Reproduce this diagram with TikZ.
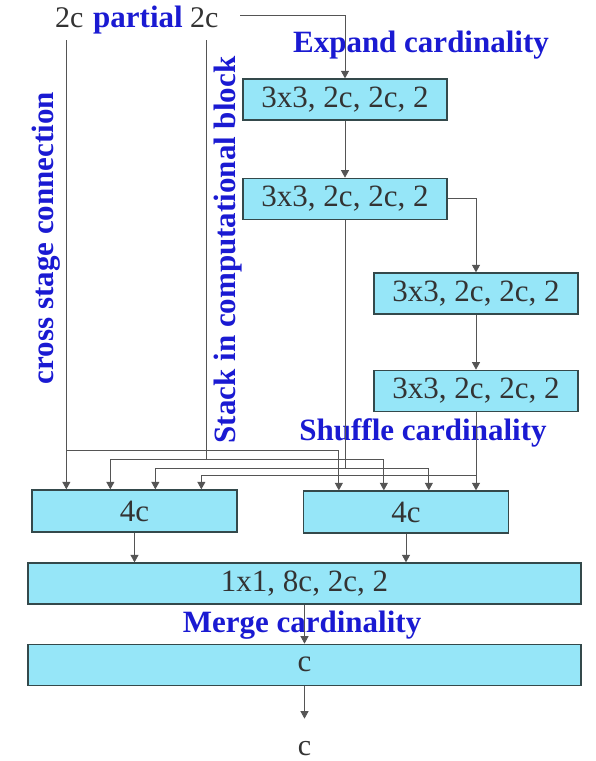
\documentclass[tikz,border=0pt]{standalone}
\usepackage{fontspec}
\setmainfont{Liberation Serif}
\usepackage{tikz}
\usetikzlibrary{arrows.meta,positioning,calc}
\definecolor{cellfill}{HTML}{96E6F8}
\definecolor{celledge}{HTML}{34494B}
\definecolor{notecolor}{HTML}{1A1AD2}
\definecolor{wirecolor}{HTML}{555555}
\tikzset{
  convbox/.style={draw=celledge,fill=cellfill,line width=1.3pt,minimum width=204pt,
    minimum height=41pt,inner sep=0pt,font=\fontsize{31}{37}\selectfont,text=black!80},
  widebox/.style={convbox,minimum width=553pt},
  notelabel/.style={font=\fontsize{31}{37}\selectfont\bfseries,text=notecolor,inner sep=0pt},
  plainlabel/.style={font=\fontsize{30}{36}\selectfont,text=black!80,inner sep=0pt},
  wire/.style={draw=wirecolor,line width=0.9pt},
  flowarrow/.style={wire,-{Triangle[length=7.5pt,width=8pt]}}
}

\begin{document}
\begin{tikzpicture}[x=1pt,y=-1pt]
  \useasboundingbox (0,0) rectangle (596,761);
  \node[plainlabel,anchor=base west] (srcL) at (55,27) {2c};
  \node[notelabel,anchor=base west] (part) at (93,27) {partial};
  \node[plainlabel,anchor=base west] (srcR) at (190,27) {2c};

  \node[notelabel,anchor=base] (expand) at (421,52) {Expand cardinality};
  \node[convbox] (blk1) at (345,99.5) {3x3, 2c, 2c, 2};
  \node[convbox,below=57pt of blk1] (blk2) {3x3, 2c, 2c, 2};
  \node[convbox] (blk3) at (476,293.5) {3x3, 2c, 2c, 2};
  \node[convbox,below=55pt of blk3] (blk4) {3x3, 2c, 2c, 2};
  \node[notelabel,anchor=base] (shuffle) at (423,440) {Shuffle cardinality};
  \node[notelabel,rotate=90] (cross) at (46,238) {cross stage connection};
  \node[notelabel,rotate=90] (stack) at (228,250) {Stack in computational block};

  \node[convbox,minimum width=205pt,minimum height=42pt] (sumL) at (134.5,511) {4c};
  \node[convbox,minimum width=205pt,minimum height=42pt] (sumR) at (406,512) {4c};
  \node[widebox] (merge) at (304.5,583.5) {1x1, 8c, 2c, 2};
  \node[notelabel,anchor=base] (mergenote) at (302,632) {Merge cardinality};
  \node[widebox,below=39pt of merge] (outbox) {c};
  \node[plainlabel,anchor=base] (outc) at (304.5,755) {c};

  \foreach \k/\dl/\dr in {1/35/36,2/79/81,3/124/126,4/170/172}{
    \coordinate (portL-\k) at ([xshift=\dl pt]sumL.north west);
    \coordinate (portR-\k) at ([xshift=\dr pt]sumR.north west);
  }

  \coordinate (tapR) at (240,15);
  \draw[flowarrow] (tapR) -| (blk1);
  \draw[flowarrow] (blk1) -- (blk2);
  \draw[flowarrow] (blk2.east) -| (blk3);
  \draw[flowarrow] (blk3) -- (blk4);

  \coordinate (tapA) at (portL-1 |- 0,40);
  \coordinate (splitA) at (portL-1 |- 0,450);
  \draw[flowarrow] (tapA) -- (portL-1);
  \draw[flowarrow] (splitA) -| (portR-1);

  \coordinate (tapB) at (206,40);
  \coordinate (splitB) at (206,459);
  \draw[wire] (tapB) -- (splitB);
  \draw[flowarrow] (splitB) -| (portL-2);
  \draw[flowarrow] (splitB) -| (portR-2);

  \coordinate (splitC) at (blk2.south |- 0,468);
  \draw[wire] (blk2) -- (splitC);
  \draw[flowarrow] (splitC) -| (portL-3);
  \draw[flowarrow] (splitC) -| (portR-3);

  \coordinate (splitD) at (blk4.south |- 0,475);
  \draw[flowarrow] (blk4) -- (blk4 |- portR-4);
  \draw[flowarrow] (splitD) -| (portL-4);

  \draw[flowarrow] (sumL) -- (sumL |- merge.north);
  \draw[flowarrow] (sumR) -- (sumR |- merge.north);
  \draw[flowarrow] (merge) -- (outbox);
  \draw[flowarrow] (outbox) -- ([yshift=22pt]outc.north);
\end{tikzpicture}
\end{document}
